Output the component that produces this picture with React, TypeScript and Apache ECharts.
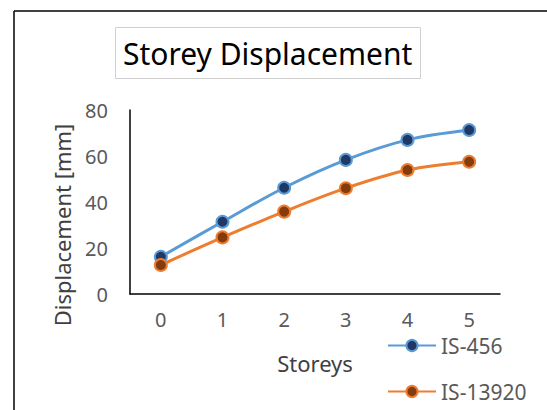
import React, { useEffect, useRef } from "react";
import * as echarts from "echarts";

const storeys = ["0", "1", "2", "3", "4", "5"];
const is456 = [16.2, 31.4, 46.2, 58.3, 67.0, 71.3];
const is13920 = [12.6, 24.6, 35.8, 46.0, 53.9, 57.5];
const yTicks = { min: 0, max: 80, interval: 20 };

const FONT = "'Noto Sans', 'Open Sans', sans-serif";

export default function App() {
  const ref = useRef<HTMLDivElement>(null);
  useEffect(() => {
    if (!ref.current) return;
    const chart = echarts.init(ref.current, undefined, { renderer: "svg" });
    chart.setOption({
      animation: false,
      backgroundColor: "#ffffff",
      textStyle: { fontFamily: FONT },
      title: {
        text: "Storey Displacement",
        left: 115,
        top: 27,
        padding: [5, 8],
        borderColor: "#d0d0d0",
        borderWidth: 1,
        textStyle: {
          fontFamily: FONT,
          fontSize: 30,
          fontWeight: "normal",
          color: "#000000",
          lineHeight: 42,
        },
      },
      graphic: [
        {
          type: "line",
          shape: { x1: 14, y1: 11, x2: 547, y2: 11 },
          style: { stroke: "#000000", lineWidth: 1.5 },
        },
        {
          type: "line",
          shape: { x1: 14, y1: 11, x2: 14, y2: 410 },
          style: { stroke: "#000000", lineWidth: 1.5 },
        },
        {
          type: "text",
          x: 62,
          y: 225,
          rotation: Math.PI / 2,
          style: {
            text: "Displacement [mm]",
            fontFamily: FONT,
            fontSize: 22,
            fill: "#404040",
            align: "center",
            verticalAlign: "middle",
          },
        },
      ],
      legend: {
        orient: "vertical",
        left: 387,
        top: 335,
        padding: 0,
        itemWidth: 48,
        itemHeight: 14,
        itemGap: 25,
        textStyle: {
          fontFamily: FONT,
          fontSize: 21,
          color: "#595959",
          lineHeight: 20,
        },
        data: ["IS-456", "IS-13920"],
      },
      grid: { left: 130, right: 47, top: 110, bottom: 116 },
      xAxis: {
        type: "category",
        data: storeys,
        boundaryGap: true,
        name: "Storeys",
        nameLocation: "middle",
        nameGap: 58,
        nameTextStyle: { fontFamily: FONT, fontSize: 22, color: "#404040" },
        axisLine: { show: true, lineStyle: { color: "#000000", width: 1.5 } },
        axisTick: { show: false },
        axisLabel: {
          fontFamily: FONT,
          fontSize: 20,
          lineHeight: 20,
          color: "#595959",
          margin: 15,
        },
        splitLine: { show: false },
      },
      yAxis: {
        type: "value",
        min: yTicks.min,
        max: yTicks.max,
        interval: yTicks.interval,
        axisLine: { show: true, lineStyle: { color: "#000000", width: 1.5 } },
        axisTick: { show: false },
        axisLabel: {
          fontFamily: FONT,
          fontSize: 20,
          color: "#595959",
          margin: 22,
        },
        splitLine: { show: false },
      },
      series: [
        {
          name: "IS-456",
          type: "line",
          data: is456,
          smooth: 0.35,
          symbol: "circle",
          symbolSize: 12,
          lineStyle: { color: "#5b9bd5", width: 3 },
          itemStyle: { color: "#203864", borderColor: "#5b9bd5", borderWidth: 2 },
        },
        {
          name: "IS-13920",
          type: "line",
          data: is13920,
          smooth: 0.35,
          symbol: "circle",
          symbolSize: 12,
          lineStyle: { color: "#ed7d31", width: 3 },
          itemStyle: { color: "#843c0c", borderColor: "#ed7d31", borderWidth: 2 },
        },
      ],
    });
    return () => chart.dispose();
  }, []);
  return (
    <div
      ref={ref}
      style={{ position: "fixed", left: 0, top: 0, width: 547, height: 410 }}
    />
  );
}
